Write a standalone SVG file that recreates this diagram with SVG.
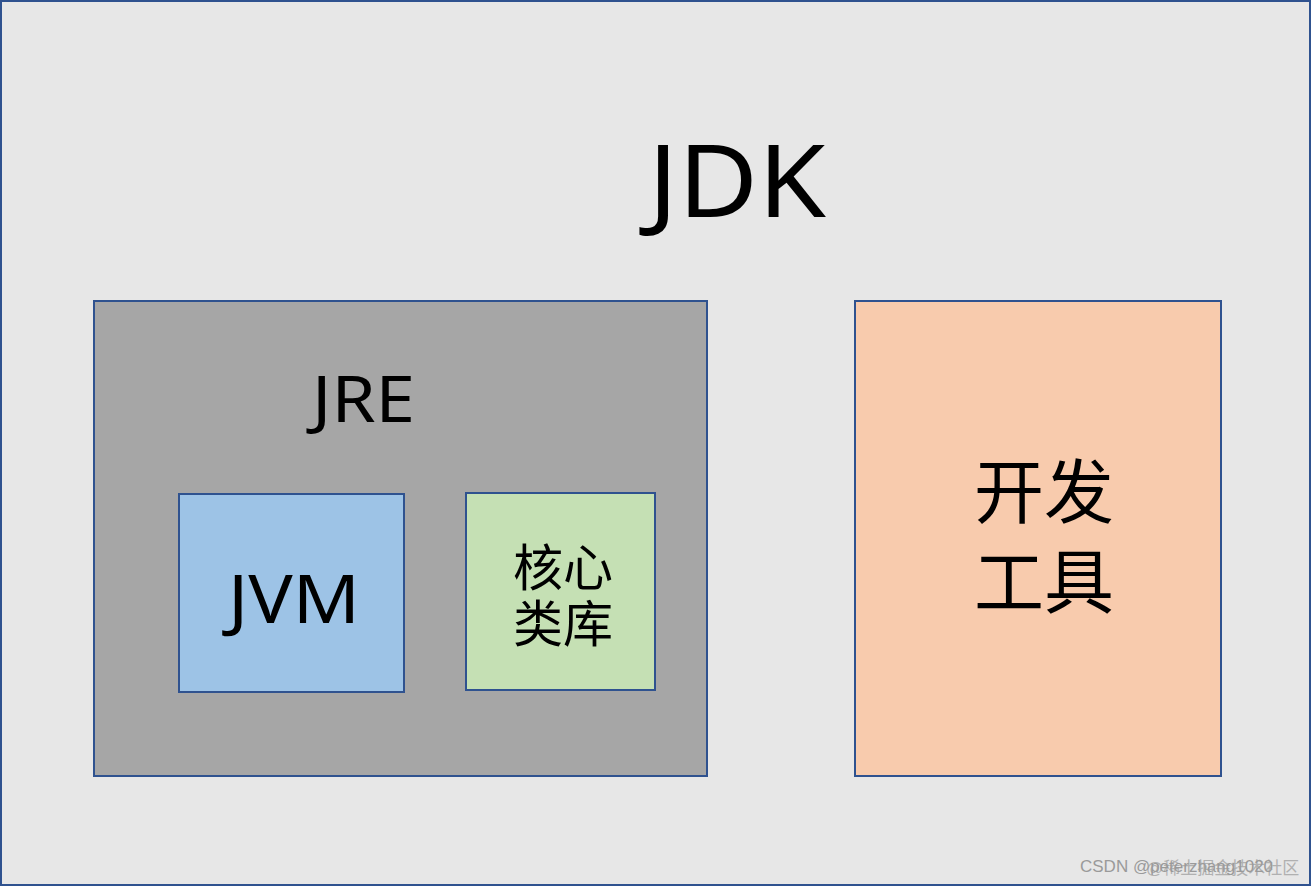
<svg xmlns="http://www.w3.org/2000/svg" width="1311" height="886" viewBox="0 0 1311 886">
<style>
.box{stroke:#2f528f;stroke-width:2}
.lat{font-family:"Noto Sans","Open Sans","DejaVu Sans",sans-serif;fill:#000}
.cjk{font-family:"Noto Sans CJK SC","Noto Sans",sans-serif;fill:#000}
.wm{font-family:"Liberation Sans",Arial,"Noto Sans CJK SC",sans-serif;font-size:17px;fill:#9a9a9a}
</style>
<g id="jdk">
<rect x="1" y="1" width="1309" height="884" fill="#e7e7e7" class="box"/>
<text class="lat" x="737" y="217" font-size="100" text-anchor="middle" textLength="178" lengthAdjust="spacingAndGlyphs">JDK</text>
</g>
<g id="jre">
<rect x="94" y="301" width="613" height="475" fill="#a6a6a6" class="box"/>
<text class="lat" x="363.5" y="422" font-size="63" text-anchor="middle" textLength="103" lengthAdjust="spacingAndGlyphs">JRE</text>
</g>
<g id="jvm">
<rect x="179" y="494" width="225" height="198" fill="#9dc3e6" class="box"/>
<text class="lat" x="294" y="623" font-size="68" text-anchor="middle" textLength="132" lengthAdjust="spacingAndGlyphs">JVM</text>
</g>
<g id="corelib">
<rect x="466" y="493" width="189" height="197" fill="#c5e0b4" class="box"/>
<text class="cjk" x="563" y="586" font-size="50" text-anchor="middle">核心</text>
<text class="cjk" x="563" y="642" font-size="50" text-anchor="middle">类库</text>
</g>
<g id="devtools">
<rect x="855" y="301" width="366" height="475" fill="#f8cbad" class="box"/>
<text class="cjk" x="1044" y="518" font-size="70" text-anchor="middle">开发</text>
<text class="cjk" x="1044" y="608" font-size="70" text-anchor="middle">工具</text>
</g>
<g id="connectors"></g>
<g id="watermark">
<text class="wm" x="1080" y="872">CSDN @peterzhang1020</text>
<text class="wm" x="1146" y="874" opacity="0.7">@稀土掘金技术社区</text>
</g>
</svg>
